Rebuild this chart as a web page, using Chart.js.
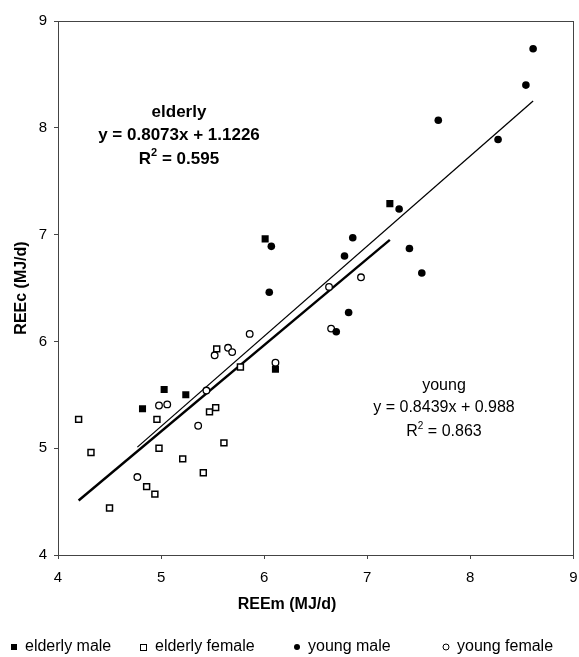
<!DOCTYPE html>
<html>
<head>
<meta charset="utf-8">
<script src="https://cdn.jsdelivr.net/npm/chart.js@4/dist/chart.umd.min.js"></script>
<style>
html,body{margin:0;padding:0;background:#fff;overflow:hidden;}
#wrap{width:579px;height:657px;position:relative;}
</style>
</head>
<body>
<div id="wrap"><canvas id="c" width="579" height="657"></canvas></div>
<script>
// ---- data ----
const elderlyMale = [[4.82,5.37],[5.03,5.55],[5.24,5.50],[6.01,6.96],[6.11,5.74],[7.22,7.29]];
const elderlyFemale = [[4.20,5.27],[4.32,4.96],[4.50,4.44],[4.86,4.64],[4.94,4.57],[4.96,5.27],[4.98,5.00],[5.21,4.90],[5.41,4.77],[5.47,5.34],[5.53,5.38],[5.54,5.93],[5.61,5.05],[5.77,5.76]];
const youngMale = [[6.05,6.46],[6.07,6.89],[6.70,6.09],[6.78,6.80],[6.82,6.27],[6.86,6.97],[7.31,7.24],[7.41,6.87],[7.53,6.64],[7.69,8.07],[8.27,7.89],[8.54,8.40],[8.61,8.74]];
const youngFemale = [[4.77,4.73],[4.98,5.40],[5.06,5.41],[5.36,5.21],[5.44,5.54],[5.52,5.87],[5.65,5.94],[5.69,5.90],[5.86,6.07],[6.11,5.80],[6.63,6.51],[6.65,6.12],[6.94,6.60]];
const elderlyFit = [[4.20,4.51],[7.22,6.95]];
const youngFit = [[4.77,5.01],[8.61,8.25]];
const axisMin = 4, axisMax = 9;
const legendLabels = ['elderly male','elderly female','young male','young female'];
const elderlyText = ['elderly','y = 0.8073x + 1.1226','R','2',' = 0.595'];
const youngText = ['young','y = 0.8439x + 0.988','R','2',' = 0.863'];
const xTitle = 'REEm (MJ/d)';
const yTitle = 'REEc (MJ/d)';

const pts = a => a.map(p => ({x:p[0], y:p[1]}));
const FONT = '"Liberation Sans", Arial, sans-serif';

const overlay = {
  id:'overlay',
  afterDraw(chart){
    const ctx = chart.ctx, a = chart.chartArea;
    ctx.save();
    // plot box
    ctx.strokeStyle = '#444'; ctx.lineWidth = 1;
    ctx.strokeRect(Math.round(a.left)+0.5, Math.round(a.top)+0.5, Math.round(a.right-a.left), Math.round(a.bottom-a.top));
    ctx.fillStyle = '#000';
    ctx.textBaseline = 'middle';
    // annotations
    function eqBlock(t, cx, ys, bold, size){
      const f = (bold?'bold ':'') + size + 'px ' + FONT;
      const fs = (bold?'bold ':'') + Math.round(size*0.62) + 'px ' + FONT;
      ctx.font = f; ctx.textAlign = 'center';
      ctx.fillText(t[0], cx, ys[0]);
      ctx.fillText(t[1], cx, ys[1]);
      const wR = ctx.measureText(t[2]).width;
      const wRest = ctx.measureText(t[4]).width;
      ctx.font = fs;
      const w2 = ctx.measureText(t[3]).width;
      let x = cx - (wR + w2 + wRest)/2;
      ctx.textAlign = 'left';
      ctx.font = f; ctx.fillText(t[2], x, ys[2]); x += wR;
      ctx.font = fs; ctx.fillText(t[3], x, ys[2]-6); x += w2;
      ctx.font = f; ctx.fillText(t[4], x, ys[2]);
    }
    eqBlock(elderlyText, 179, [112,135,159], true, 17);
    eqBlock(youngText, 444, [386,408,432], false, 16);
    // axis titles
    ctx.font = 'bold 16px ' + FONT; ctx.textAlign = 'center';
    ctx.fillText(xTitle, 287, 605);
    ctx.save(); ctx.translate(22, (a.top+a.bottom)/2); ctx.rotate(-Math.PI/2);
    ctx.fillText(yTitle, 0, 0); ctx.restore();
    // legend
    const ly = 647;
    const items = [[14,25,'sq',true],[143,155,'sq',false],[297,308,'ci',true],[446,457,'ci',false]];
    ctx.font = '16px ' + FONT; ctx.textAlign = 'left';
    items.forEach((it,i)=>{
      ctx.lineWidth = 1; ctx.strokeStyle = '#000';
      if(it[2]==='sq'){
        if(it[3]) ctx.fillRect(it[0]-3, ly-3, 6, 6);
        else ctx.strokeRect(it[0]-2.5, ly-2.5, 6, 6);
      } else {
        ctx.beginPath(); ctx.arc(it[0], ly, 3, 0, Math.PI*2);
        if(it[3]) ctx.fill(); else ctx.stroke();
      }
      ctx.fillText(legendLabels[i], it[1], ly);
    });
    ctx.restore();
  }
};

const axisCommon = {
  type:'linear', min:axisMin, max:axisMax,
  ticks:{stepSize:1, color:'#000', font:{family:FONT, size:15}},
  grid:{display:true, drawOnChartArea:false, drawTicks:true, tickLength:4, color:'#444'},
  border:{display:true, color:'#444', width:1},
  title:{display:false}
};

new Chart(document.getElementById('c'), {
  type:'scatter',
  data:{datasets:[
    {label:legendLabels[0], data:pts(elderlyMale), pointStyle:'rect', pointRadius:5, backgroundColor:'#000', borderColor:'#000', borderWidth:0},
    {label:legendLabels[1], data:pts(elderlyFemale), pointStyle:'rect', pointRadius:4.2, backgroundColor:'#fff', borderColor:'#000', borderWidth:1.5},
    {label:legendLabels[2], data:pts(youngMale), pointStyle:'circle', pointRadius:3.8, backgroundColor:'#000', borderColor:'#000', borderWidth:0},
    {label:legendLabels[3], data:pts(youngFemale), pointStyle:'circle', pointRadius:3.3, backgroundColor:'#fff', borderColor:'#000', borderWidth:1.3},
    {label:'elderly fit', data:pts(elderlyFit), showLine:true, pointRadius:0, borderColor:'#000', borderWidth:2.4, fill:false},
    {label:'young fit', data:pts(youngFit), showLine:true, pointRadius:0, borderColor:'#000', borderWidth:1.3, fill:false}
  ]},
  options:{
    responsive:false, animation:false,
    layout:{padding:{top:21, right:4, left:0, bottom:0}},
    plugins:{legend:{display:false}, tooltip:{enabled:false}},
    scales:{
      x:Object.assign({}, axisCommon, {ticks:Object.assign({}, axisCommon.ticks, {padding:10}),
        afterFit(s){ s.height = 102; s.paddingLeft = 0; s.paddingRight = 0; }}),
      y:Object.assign({}, axisCommon, {ticks:Object.assign({}, axisCommon.ticks, {padding:7}),
        afterFit(s){ s.width = 58; s.paddingTop = 0; s.paddingBottom = 0; }})
    }
  },
  plugins:[overlay]
});
</script>
</body>
</html>
